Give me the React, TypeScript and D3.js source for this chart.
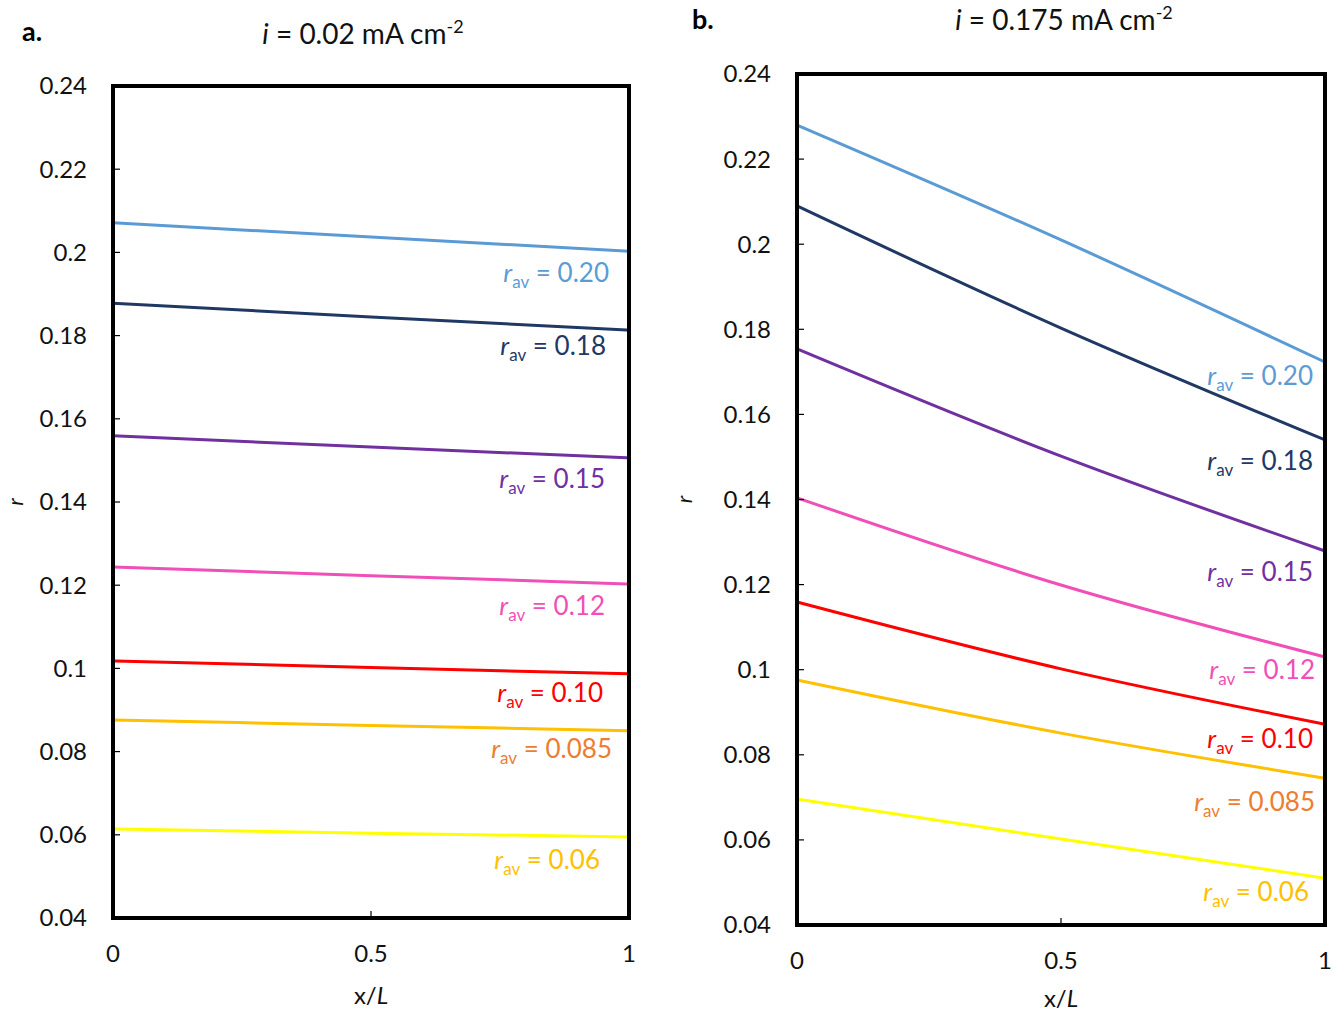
import React from 'react';
import * as d3 from 'd3';

// x positions along the electrode (x/L)
const xPos = [0, 0.5, 1];

// average r of each curve, label text and colours
const rAvLabels = ['0.20', '0.18', '0.15', '0.12', '0.10', '0.085', '0.06'];
const lineColors = ['#5B9BD5', '#1F3864', '#7030A0', '#F04FB8', '#FF0000', '#FFC000', '#FFFF00'];
const labelColors = ['#5B9BD5', '#1F3864', '#7030A0', '#F04FB8', '#FF0000', '#ED7D31', '#FFC000'];

// panel a: i = 0.02 mA cm-2
const seriesA = [
  [0.2071, 0.2037, 0.2003],
  [0.1878, 0.1845, 0.1813],
  [0.1559, 0.1532, 0.1506],
  [0.1244, 0.1223, 0.1203],
  [0.1018, 0.1002, 0.0987],
  [0.0876, 0.0863, 0.085],
  [0.0614, 0.0604, 0.0595],
];
// where the r_av labels sit (r units)
const labelYA = [0.1951, 0.1775, 0.1455, 0.115, 0.0941, 0.0806, 0.0539];

// panel b: i = 0.175 mA cm-2
const seriesB = [
  [0.228, 0.201, 0.1723],
  [0.209, 0.1803, 0.154],
  [0.1754, 0.1502, 0.1279],
  [0.1404, 0.1199, 0.103],
  [0.1159, 0.1002, 0.0872],
  [0.0976, 0.0851, 0.0745],
  [0.0696, 0.0602, 0.051],
];
const labelYB = [0.169, 0.149, 0.123, 0.0999, 0.0837, 0.0689, 0.0478];

const yTicks = [0.04, 0.06, 0.08, 0.1, 0.12, 0.14, 0.16, 0.18, 0.2, 0.22, 0.24];
const xTicks = [0, 0.5, 1];

const FONT = 'Lato, "Open Sans", sans-serif';

type PanelProps = {
  left: number; right: number; top: number; bottom: number;
  series: number[][]; labelY: number[];
  tag: string; current: string;
  tagX: number; tagY: number; titleX: number; titleY: number;
  labelRight: number[]; xTitleY: number; rTitleX: number;
};

function Panel(p: PanelProps) {
  const x = d3.scaleLinear().domain([0, 1]).range([p.left, p.right]);
  const y = d3.scaleLinear().domain([0.04, 0.24]).range([p.bottom, p.top]);
  const line = d3.line<number>()
    .x((_, i) => x(xPos[i]))
    .y(d => y(d))
    .curve(d3.curveMonotoneX);
  const midY = (p.top + p.bottom) / 2;
  const yFmt = (v: number) => String(+v.toFixed(2));

  return (
    <g fontFamily={FONT}>
      <text x={p.tagX} y={p.tagY} fontSize={27} fontWeight="bold" fill="#000">{p.tag}</text>
      <text x={p.titleX} y={p.titleY} fontSize={28} textAnchor="middle" fill="#111">
        <tspan fontStyle="italic">i</tspan>
        <tspan> = {p.current} mA cm</tspan>
        <tspan fontSize={18} dy={-11}>-2</tspan>
      </text>

      {p.series.map((s, i) => (
        <path key={i} d={line(s) || ''} fill="none" stroke={lineColors[i]} strokeWidth={3} />
      ))}

      {p.series.map((_, i) => (
        <text key={'l' + i} x={p.labelRight[i]} y={y(p.labelY[i]) + 9} fontSize={26}
          textAnchor="end" fill={labelColors[i]}>
          <tspan fontStyle="italic">r</tspan>
          <tspan fontSize={17} dy={6}>av</tspan>
          <tspan dy={-6}> = {rAvLabels[i]}</tspan>
        </text>
      ))}

      {yTicks.map(t => (
        <g key={'y' + t}>
          <line x1={p.left} x2={p.left + 7} y1={y(t)} y2={y(t)} stroke="#000" strokeWidth={1.2} />
          <text x={p.left - 26} y={y(t)} dy="0.35em" textAnchor="end" fontSize={24} fill="#111">{yFmt(t)}</text>
        </g>
      ))}
      {xTicks.map(t => (
        <g key={'x' + t}>
          <line x1={x(t)} x2={x(t)} y1={p.bottom} y2={p.bottom - 7} stroke="#000" strokeWidth={1.2} />
          <text x={x(t)} y={p.bottom + 36} dy="0.35em" textAnchor="middle" fontSize={24} fill="#111">{String(t)}</text>
        </g>
      ))}

      <rect x={p.left} y={p.top} width={p.right - p.left} height={p.bottom - p.top}
        fill="none" stroke="#000" strokeWidth={4} />

      <text x={(p.left + p.right) / 2} y={p.xTitleY} dy="0.35em" textAnchor="middle" fontSize={24} fill="#111">
        x/<tspan fontStyle="italic">L</tspan>
      </text>
      <text transform={`translate(${p.rTitleX},${midY}) rotate(-90)`} textAnchor="middle"
        fontSize={22} fontStyle="italic" fill="#111">r</text>
    </g>
  );
}

export default function App() {
  return (
    <svg width={1334} height={1014} style={{ position: 'absolute', left: 0, top: 0, background: '#fff' }}>
      <rect width={1334} height={1014} fill="#fff" />
      <Panel left={113} right={629} top={86} bottom={918}
        series={seriesA} labelY={labelYA}
        labelRight={[609, 606, 605, 605, 603, 612, 600]}
        tag="a." current="0.02" tagX={22} tagY={41} titleX={363} titleY={44}
        xTitleY={996} rTitleX={23} />
      <Panel left={797} right={1325} top={74} bottom={925}
        series={seriesB} labelY={labelYB}
        labelRight={[1313, 1313, 1313, 1315, 1313, 1315, 1309]}
        tag="b." current="0.175" tagX={692} tagY={29} titleX={1064} titleY={30}
        xTitleY={999} rTitleX={692} />
    </svg>
  );
}
